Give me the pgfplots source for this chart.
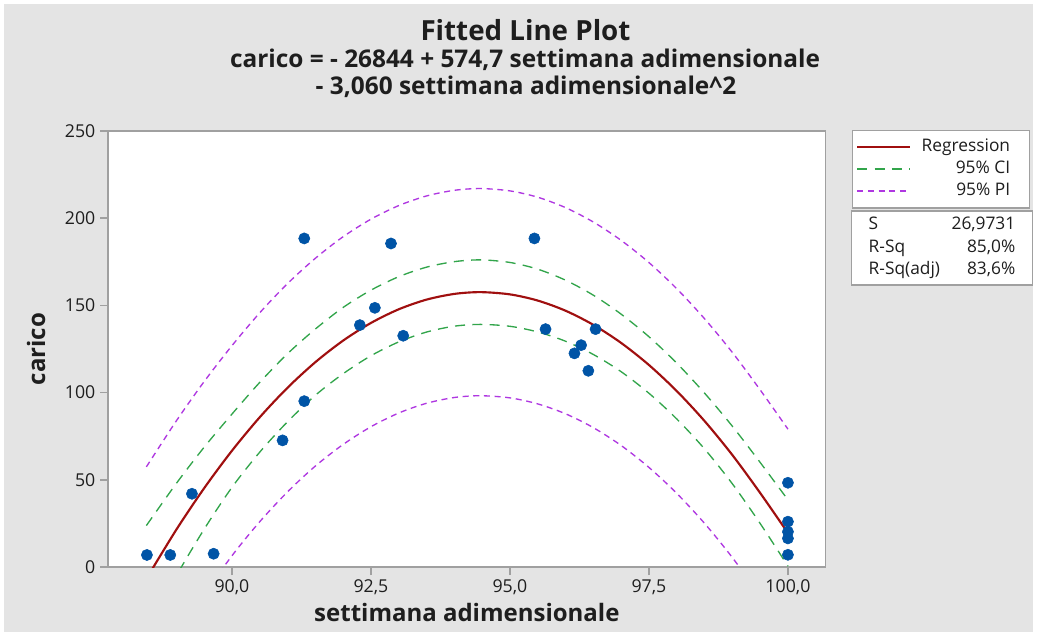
\documentclass[border=0pt]{standalone}
\usepackage{pgfplots}
\usepackage{pgfplotstable}
\pgfplotsset{compat=1.18}
\usepackage{fontspec}
\setmainfont{Open Sans}
\definecolor{regred}{RGB}{160,15,15}
\definecolor{cigreen}{RGB}{50,165,75}
\definecolor{pipurple}{RGB}{175,55,225}
\definecolor{ptblue}{RGB}{0,84,166}
\definecolor{bggray}{RGB}{228,228,228}
\definecolor{framegray}{RGB}{160,160,160}
\definecolor{txt}{RGB}{30,30,30}

\pgfplotstableread{
x yhat ciu cil piu pil
88.46 -6.75 23.75 -37.25 57.41 -70.91
89.0 21.46 47.96 -5.04 83.82 -40.90
89.5 45.21 68.71 21.71 106.36 -15.94
90.0 66.69 87.69 45.69 126.92 6.46
90.5 85.89 105.89 65.89 145.78 26.00
91.0 102.82 122.32 83.32 162.54 43.10
91.5 117.46 136.46 98.46 177.02 57.90
92.0 129.84 148.84 110.84 189.40 70.28
92.5 139.94 158.74 121.14 199.44 80.44
93.0 147.77 166.47 129.07 207.24 88.30
93.5 153.32 171.92 134.72 212.76 93.88
94.0 156.59 175.09 138.09 215.99 97.19
94.47 157.60 176.10 139.10 217.00 98.20
95.0 156.32 174.62 138.02 215.66 96.98
95.5 152.77 170.77 134.77 212.02 93.52
96.0 146.95 164.45 129.45 206.05 87.85
96.5 138.85 155.85 121.85 197.80 79.90
97.0 128.48 144.98 111.98 187.29 69.67
97.5 115.83 132.03 99.63 174.56 57.10
98.0 100.90 116.90 84.90 159.57 42.23
98.5 83.70 99.70 67.70 142.37 25.03
99.0 64.23 80.73 47.73 123.04 5.42
99.5 42.48 59.98 24.98 101.58 -16.62
100.0 19.50 38.50 0.50 79.06 -40.06
}\fitted

\pgfplotstableread{
x y
88.47 6.9
88.89 6.9
89.28 42.0
89.67 7.6
90.91 72.6
91.30 95.1
91.30 188.4
92.30 138.7
92.57 148.6
92.86 185.5
93.08 132.6
95.44 188.4
95.64 136.4
96.16 122.5
96.28 127.2
96.41 112.5
96.54 136.4
100.0 48.3
100.0 26.0
100.0 20.2
100.0 16.4
100.0 7.0
}\obs

\begin{document}
\begin{tikzpicture}
\fill[white] (0pt,0pt) rectangle (777.75pt,477pt);
\fill[bggray] (3pt,3pt) rectangle (774.75pt,474pt);
\node[anchor=base, text=txt, font=\fontsize{20.8}{24}\selectfont\bfseries] at (394.1pt,446.25pt) {Fitted Line Plot};
\node[anchor=base, text=txt, font=\fontsize{18.3}{22}\selectfont\bfseries] at (393.75pt,426pt) {carico = - 26844 + 574,7 settimana adimensionale};
\node[anchor=base, text=txt, font=\fontsize{18.3}{22}\selectfont\bfseries] at (394.5pt,405.75pt) {- 3,060 settimana adimensionale\^{}2};
\begin{axis}[
  at={(81pt,51.75pt)}, anchor=south west,
  scale only axis, width=538.3pt, height=327pt,
  xmin=87.77, xmax=100.68, ymin=0, ymax=250,
  axis background/.style={fill=white},
  axis line style={framegray, line width=1.1pt},
  tick style={framegray, line width=1.1pt},
  major tick length=6pt,
  tick align=outside,
  xtick pos=left, ytick pos=left,
  xtick={90,92.5,95,97.5,100},
  xticklabels={{90,0},{92,5},{95,0},{97,5},{100,0}},
  ytick={0,50,100,150,200,250},
  yticklabels={0,50,100,150,200,250},
  ticklabel style={font=\fontsize{13.3}{15}\selectfont, text=txt},
  /pgf/number format/assume math mode=true,
  xlabel={settimana adimensionale},
  xlabel style={at={(axis description cs:0.5,-0.1239)}, anchor=base, font=\fontsize{18}{22}\selectfont\bfseries, text=txt},
  ylabel={carico},
  ylabel style={at={(axis description cs:-0.1003,0.5)}, anchor=center, font=\fontsize{18}{22}\selectfont\bfseries, text=txt},
  legend image code/.code={\draw[#1, line width=1.3pt] (0pt,0pt) -- (39.75pt,0pt);},
  legend cell align=right,
  legend style={at={(axis description cs:1.0362,1.0023)}, anchor=north west,
    draw=framegray, line width=1pt, fill=white,
    inner xsep=3pt, inner ysep=4.25pt, column sep=4.5pt,
    font=\fontsize{13}{15}\selectfont,
    nodes={inner sep=2pt, text height=9.5pt, text depth=3pt, text=txt}},
]
\addplot[regred, line width=1.6pt, smooth] table[x=x,y=yhat]{\fitted};
\addlegendentry{\makebox[67.75pt][r]{Regression}\hspace*{9.75pt}}
\addplot[draw=cigreen, color=cigreen, line width=1pt, dash pattern=on 7.5pt off 5.5pt, smooth] table[x=x,y=ciu]{\fitted};
\addlegendentry{\makebox[67.75pt][r]{95\% CI}\hspace*{9.75pt}}
\addplot[draw=pipurple, color=pipurple, line width=1pt, dash pattern=on 4.5pt off 3.5pt, smooth] table[x=x,y=piu]{\fitted};
\addlegendentry{\makebox[67.75pt][r]{95\% PI}\hspace*{9.75pt}}
\addplot[cigreen, line width=1pt, dash pattern=on 7.5pt off 5.5pt, smooth, forget plot] table[x=x,y=cil]{\fitted};
\addplot[pipurple, line width=1pt, dash pattern=on 4.5pt off 3.5pt, smooth, forget plot] table[x=x,y=pil]{\fitted};
\addplot[only marks, mark=*, mark size=4.2pt, mark options={draw=ptblue, fill=ptblue}, forget plot] table[x=x,y=y]{\obs};
\end{axis}
\draw[framegray, line width=1pt, fill=white] (638.8pt,263.25pt) rectangle (774.5pt,318.75pt);
\begin{scope}[every node/.style={text=txt, font=\fontsize{13}{15}\selectfont}]
\node[anchor=base west] at (648pt,304.5pt) {S};
\node[anchor=base east] at (765pt,304.5pt) {26,9731};
\node[anchor=base west] at (648pt,287.25pt) {R-Sq};
\node[anchor=base east] at (765pt,287.25pt) {85,0\%};
\node[anchor=base west] at (648pt,270.75pt) {R-Sq(adj)};
\node[anchor=base east] at (765pt,270.75pt) {83,6\%};
\end{scope}
\end{tikzpicture}
\end{document}
